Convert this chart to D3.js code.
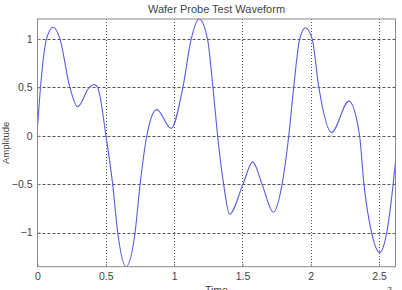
<!DOCTYPE html>
<html>
<head>
<meta charset="utf-8">
<script src="https://cdn.jsdelivr.net/npm/d3@7"></script>
<style>
  body { margin: 0; background: #fff; }
  svg { display: block; font-family: "Liberation Sans", Arial, sans-serif; }
</style>
</head>
<body>
<div id="chart"></div>
<script>
// time in ms (axis shows x10^-3), amplitude
const timeMs = [0, 0.022, 0.066, 0.115, 0.164, 0.237, 0.293, 0.379, 0.416, 0.44, 0.501, 0.55, 0.587, 0.648,
  0.714, 0.751, 0.80, 0.873, 0.978, 1.064, 1.125, 1.183, 1.244, 1.284, 1.318, 1.362, 1.406, 1.504,
  1.575, 1.643, 1.726, 1.79, 1.839, 1.875, 1.919, 1.961, 2.01, 2.059, 2.152, 2.279, 2.357, 2.389,
  2.445, 2.504, 2.556, 2.603, 2.62];
const amplitude = [0.09, 0.5, 1.0, 1.12, 1.0, 0.5, 0.30, 0.5, 0.53, 0.5, 0, -0.5, -1.0, -1.353,
  -1.0, -0.5, 0, 0.27, 0.076, 0.5, 1.0, 1.206, 1.0, 0.5, 0, -0.5, -0.81, -0.5,
  -0.27, -0.5, -0.79, -0.5, 0, 0.5, 1.0, 1.115, 1.0, 0.5, 0.034, 0.358, 0, -0.5,
  -1.0, -1.205, -1.0, -0.5, -0.27];
const xTicks = [0, 0.5, 1, 1.5, 2, 2.5];
const yTicks = [-1, -0.5, 0, 0.5, 1];

const width = 402, height = 290;
const margin = { top: 19, right: 6.5, bottom: 23.3, left: 37.5 };

const svg = d3.select('#chart').append('svg')
  .attr('width', width)
  .attr('height', height);

const x = d3.scaleLinear().domain([0, 2.62]).range([margin.left, width - margin.right]);
const y = d3.scaleLinear().domain([-1.353, 1.206]).range([height - margin.bottom, margin.top]);

const gridColor = '#555';

// grid: horizontal dashed, vertical dotted
svg.append('g')
  .selectAll('line')
  .data(yTicks)
  .enter().append('line')
  .attr('x1', margin.left).attr('x2', width - margin.right)
  .attr('y1', d => Math.round(y(d)) + 0.5).attr('y2', d => Math.round(y(d)) + 0.5)
  .attr('stroke', gridColor)
  .attr('stroke-dasharray', '3,2');

svg.append('g')
  .selectAll('line')
  .data(xTicks.filter(d => d > 0))
  .enter().append('line')
  .attr('x1', d => Math.round(x(d)) + 0.5).attr('x2', d => Math.round(x(d)) + 0.5)
  .attr('y1', margin.top).attr('y2', height - margin.bottom)
  .attr('stroke', gridColor)
  .attr('stroke-dasharray', '1,2');

// waveform
const line = d3.line()
  .x((d, i) => x(timeMs[i]))
  .y(d => y(d))
  .curve(d3.curveMonotoneX);

svg.append('path')
  .datum(amplitude)
  .attr('fill', 'none')
  .attr('stroke', '#5a5ae8')
  .attr('stroke-width', 1.1)
  .attr('d', line);

// axes box
const boxColor = '#8a8a8a';
svg.append('rect')
  .attr('x', margin.left).attr('y', margin.top)
  .attr('width', width - margin.right - margin.left)
  .attr('height', height - margin.bottom - margin.top)
  .attr('fill', 'none')
  .attr('stroke', boxColor);

const xAxis = svg.append('g')
  .attr('transform', `translate(0,${height - margin.bottom})`)
  .call(d3.axisBottom(x).tickValues(xTicks).tickSizeInner(-3).tickSizeOuter(0).tickPadding(6).tickFormat(d3.format('')));
xAxis.select('.domain').remove();
xAxis.selectAll('line').attr('stroke', boxColor);
xAxis.selectAll('text').attr('fill', '#444').style('font-size', '10.5px').style('font-family', '"Liberation Sans", Arial, sans-serif');

const yAxis = svg.append('g')
  .attr('transform', `translate(${margin.left},0)`)
  .call(d3.axisLeft(y).tickValues(yTicks).tickSizeInner(-3).tickSizeOuter(0).tickPadding(5).tickFormat(d3.format('')));
yAxis.select('.domain').remove();
yAxis.selectAll('line').attr('stroke', boxColor);
yAxis.selectAll('text').attr('fill', '#444').style('font-size', '10.5px').style('font-family', '"Liberation Sans", Arial, sans-serif');

// title and labels
svg.append('text')
  .attr('x', (margin.left + width - margin.right) / 2)
  .attr('y', 13)
  .attr('text-anchor', 'middle')
  .attr('fill', '#444')
  .style('font-size', '11px')
  .text('Wafer Probe Test Waveform');

svg.append('text')
  .attr('x', (margin.left + width - margin.right) / 2)
  .attr('y', 294)
  .attr('text-anchor', 'middle')
  .attr('fill', '#444')
  .style('font-size', '10.5px')
  .text('Time');

svg.append('text')
  .attr('transform', `translate(9,${(margin.top + height - margin.bottom) / 2}) rotate(-90)`)
  .attr('text-anchor', 'middle')
  .attr('fill', '#444')
  .style('font-size', '9.5px')
  .text('Amplitude');

svg.append('text')
  .attr('x', 392)
  .attr('y', 292)
  .attr('text-anchor', 'end')
  .attr('fill', '#444')
  .style('font-size', '8px')
  .text('-3');
</script>
</body>
</html>
